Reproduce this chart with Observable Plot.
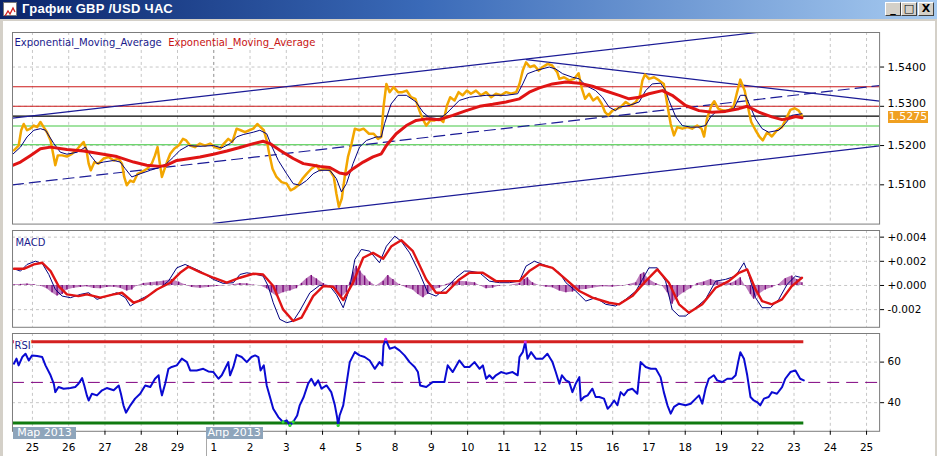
<!DOCTYPE html>
<html><head><meta charset="utf-8">
<script src="https://cdn.jsdelivr.net/npm/d3@7"></script>
<script src="https://cdn.jsdelivr.net/npm/@observablehq/plot@0.6"></script>
<style>
html,body{margin:0;padding:0;background:#d4d0c8;}
#win{position:relative;width:937px;height:456px;overflow:hidden;background:#d4d0c8;font-family:"DejaVu Sans",sans-serif;}
#title{position:absolute;left:0;top:0;width:937px;height:19px;background:linear-gradient(to right,#0a246a 0%,#3a6ab8 45%,#a6caf0 100%);}
#title .t{position:absolute;left:22px;top:1px;color:#fff;font:bold 13px "Liberation Sans",sans-serif;letter-spacing:0.3px;}
#icon{position:absolute;left:3px;top:2px;width:14px;height:14px;background:#fff;border:1px solid #7a7a7a;box-sizing:border-box;}
.btn{position:absolute;top:2px;width:16px;height:14px;background:#d4d0c8;box-sizing:border-box;border:1px solid;border-color:#fff #404040 #404040 #fff;font:bold 11px "DejaVu Sans",sans-serif;color:#000;text-align:center;line-height:12px;}
#inner{position:absolute;left:3px;top:21px;width:932px;height:435px;background:#fff;}
.panel{position:absolute;left:0;}
.panel svg{overflow:visible;}
.mbox{position:absolute;top:427px;height:12px;background:#8ea5bb;color:#fff;font:11px "DejaVu Sans",sans-serif;line-height:12px;text-align:center;white-space:nowrap;}
#lastbox{position:absolute;left:888px;width:40px;height:12px;background:#f0a020;color:#fff;font:11px "DejaVu Sans",sans-serif;line-height:12px;text-align:center;}
</style></head>
<body>
<div id="win">
  <div id="title"><div id="icon"><svg width="12" height="12"><polyline points="1,10 4,5 6,8 9,2 11,6" fill="none" stroke="#d02020" stroke-width="1.3"/></svg></div><div class="t">График GBP /USD ЧАС</div>
    <div class="btn" style="left:885px">_</div><div class="btn" style="left:901px">□</div><div class="btn" style="left:918px">X</div>
  </div>
  <div id="inner"></div>
</div>
<script>
// ---------- categories / ticks ----------
const dayLabels = ["25","26","27","28","29","1","2","3","4","5","8","9","10","11","12","15","16","17","18","19","22","23","24","25"];
const dayIdx = dayLabels.map((_, i) => i);
const monthStartIdx = 5;
const monthLabels = ["Мар 2013", "Апр 2013"];
const xDomain = [-0.55, 23.36];

const priceTicks = [1.51, 1.52, 1.53, 1.54];
const macdTicks = [-0.002, 0, 0.002, 0.004];
const rsiTicks = [40, 60];
const legendNames = ["Exponential_Moving_Average", "Exponential_Moving_Average"];

// ---------- price panel values (day index, price) ----------
const closeSeries = [[-0.51,1.5188],[-0.38,1.5200],[-0.31,1.5239],[-0.24,1.5255],[-0.15,1.5239],[-0.06,1.5243],[0.04,1.5251],[0.13,1.5247],[0.22,1.5260],[0.31,1.5247],[0.40,1.5234],[0.50,1.5213],[0.57,1.5179],[0.63,1.5150],[0.70,1.5175],[0.82,1.5175],[0.95,1.5172],[1.09,1.5179],[1.21,1.5188],[1.32,1.5200],[1.41,1.5209],[1.49,1.5188],[1.55,1.5154],[1.61,1.5137],[1.71,1.5158],[1.82,1.5154],[1.96,1.5167],[2.10,1.5171],[2.24,1.5162],[2.37,1.5167],[2.47,1.5154],[2.53,1.5120],[2.60,1.5099],[2.70,1.5111],[2.79,1.5107],[2.90,1.5128],[3.02,1.5133],[3.16,1.5141],[3.29,1.5154],[3.38,1.5175],[3.45,1.5196],[3.50,1.5162],[3.57,1.5120],[3.63,1.5137],[3.71,1.5158],[3.80,1.5179],[3.91,1.5192],[4.03,1.5200],[4.15,1.5217],[4.24,1.5213],[4.35,1.5200],[4.48,1.5196],[4.62,1.5205],[4.76,1.5200],[4.90,1.5205],[5.03,1.5196],[5.17,1.5192],[5.28,1.5205],[5.40,1.5217],[5.51,1.5209],[5.63,1.5243],[5.74,1.5239],[5.86,1.5234],[5.98,1.5239],[6.09,1.5243],[6.20,1.5255],[6.29,1.5247],[6.38,1.5239],[6.46,1.5213],[6.53,1.5179],[6.62,1.5141],[6.73,1.5120],[6.87,1.5107],[7.01,1.5103],[7.12,1.5086],[7.21,1.5090],[7.33,1.5099],[7.45,1.5116],[7.56,1.5128],[7.69,1.5141],[7.83,1.5150],[7.92,1.5137],[8.06,1.5141],[8.20,1.5137],[8.31,1.5120],[8.38,1.5078],[8.45,1.5044],[8.53,1.5065],[8.61,1.5120],[8.70,1.5171],[8.80,1.5205],[8.89,1.5243],[9.01,1.5239],[9.13,1.5243],[9.28,1.5230],[9.41,1.5230],[9.53,1.5217],[9.62,1.5222],[9.68,1.5298],[9.76,1.5357],[9.85,1.5336],[9.96,1.5349],[10.08,1.5336],[10.20,1.5336],[10.32,1.5340],[10.44,1.5323],[10.56,1.5319],[10.67,1.5289],[10.76,1.5268],[10.86,1.5251],[10.97,1.5264],[11.09,1.5264],[11.22,1.5268],[11.33,1.5260],[11.43,1.5302],[11.52,1.5323],[11.64,1.5315],[11.75,1.5336],[11.86,1.5328],[11.98,1.5340],[12.09,1.5332],[12.23,1.5340],[12.37,1.5328],[12.51,1.5336],[12.65,1.5323],[12.78,1.5332],[12.92,1.5328],[13.06,1.5336],[13.20,1.5332],[13.34,1.5336],[13.43,1.5357],[13.52,1.5391],[13.61,1.5412],[13.72,1.5400],[13.84,1.5404],[13.96,1.5391],[14.07,1.5400],[14.21,1.5408],[14.33,1.5404],[14.47,1.5387],[14.53,1.5370],[14.66,1.5374],[14.80,1.5366],[14.94,1.5370],[15.06,1.5384],[15.15,1.5345],[15.24,1.5319],[15.35,1.5332],[15.46,1.5315],[15.58,1.5323],[15.70,1.5306],[15.79,1.5285],[15.88,1.5277],[15.99,1.5289],[16.13,1.5294],[16.22,1.5298],[16.36,1.5311],[16.50,1.5302],[16.64,1.5311],[16.75,1.5328],[16.82,1.5366],[16.89,1.5381],[17.00,1.5370],[17.14,1.5374],[17.28,1.5366],[17.41,1.5357],[17.51,1.5302],[17.60,1.5255],[17.69,1.5226],[17.78,1.5247],[17.92,1.5243],[18.06,1.5247],[18.19,1.5243],[18.33,1.5251],[18.45,1.5243],[18.52,1.5223],[18.60,1.5268],[18.72,1.5302],[18.80,1.5313],[18.91,1.5294],[19.05,1.5289],[19.19,1.5289],[19.33,1.5298],[19.42,1.5332],[19.52,1.5368],[19.64,1.5340],[19.73,1.5298],[19.82,1.5260],[19.94,1.5239],[20.05,1.5222],[20.14,1.5213],[20.26,1.5234],[20.39,1.5223],[20.53,1.5239],[20.67,1.5247],[20.78,1.5268],[20.90,1.5291],[21.02,1.5295],[21.13,1.5289],[21.22,1.5276]];

const emaFast = [[-0.53,1.5179],[-0.33,1.5196],[-0.15,1.5222],[0.04,1.5239],[0.22,1.5243],[0.36,1.5239],[0.59,1.5205],[0.77,1.5183],[0.95,1.5178],[1.23,1.5183],[1.46,1.5196],[1.60,1.5175],[1.78,1.5154],[1.96,1.5158],[2.24,1.5162],[2.42,1.5158],[2.56,1.5141],[2.74,1.5120],[2.97,1.5128],[3.25,1.5137],[3.52,1.5145],[3.70,1.5154],[3.89,1.5171],[4.07,1.5188],[4.30,1.5200],[4.62,1.5198],[4.99,1.5200],[5.22,1.5194],[5.45,1.5205],[5.63,1.5222],[5.81,1.5228],[6.09,1.5234],[6.27,1.5239],[6.46,1.5230],[6.59,1.5200],[6.78,1.5162],[7.01,1.5128],[7.19,1.5103],[7.37,1.5099],[7.56,1.5111],[7.74,1.5128],[7.92,1.5137],[8.20,1.5137],[8.38,1.5116],[8.52,1.5082],[8.66,1.5103],[8.84,1.5154],[9.02,1.5196],[9.21,1.5213],[9.48,1.5222],[9.62,1.5222],[9.71,1.5256],[9.89,1.5306],[10.08,1.5328],[10.31,1.5328],[10.58,1.5311],[10.77,1.5285],[10.95,1.5271],[11.22,1.5268],[11.41,1.5281],[11.59,1.5298],[11.77,1.5315],[12.05,1.5323],[12.51,1.5328],[13.06,1.5328],[13.38,1.5332],[13.52,1.5357],[13.65,1.5383],[13.88,1.5391],[14.25,1.5400],[14.43,1.5395],[14.62,1.5383],[14.89,1.5374],[15.08,1.5370],[15.26,1.5353],[15.53,1.5340],[15.72,1.5323],[15.90,1.5298],[16.08,1.5289],[16.18,1.5298],[16.45,1.5302],[16.73,1.5311],[16.91,1.5340],[17.09,1.5357],[17.32,1.5359],[17.46,1.5340],[17.55,1.5315],[17.74,1.5273],[17.92,1.5251],[18.15,1.5247],[18.38,1.5247],[18.56,1.5251],[18.70,1.5273],[18.84,1.5285],[19.11,1.5289],[19.34,1.5294],[19.52,1.5328],[19.66,1.5328],[19.80,1.5298],[19.94,1.5268],[20.12,1.5243],[20.30,1.5234],[20.58,1.5239],[20.76,1.5256],[20.94,1.5277],[21.22,1.5281]];

const emaSlow = [[-0.53,1.5150],[-0.33,1.5158],[-0.05,1.5175],[0.22,1.5192],[0.50,1.5196],[0.95,1.5190],[1.41,1.5186],[1.87,1.5179],[2.33,1.5172],[2.79,1.5158],[3.15,1.5150],[3.52,1.5147],[3.70,1.5150],[3.98,1.5162],[4.26,1.5166],[4.62,1.5171],[4.99,1.5178],[5.36,1.5186],[5.72,1.5195],[6.09,1.5205],[6.36,1.5211],[6.55,1.5205],[6.82,1.5188],[7.19,1.5167],[7.47,1.5154],[7.74,1.5150],[7.92,1.5147],[8.20,1.5144],[8.47,1.5130],[8.66,1.5127],[8.84,1.5141],[9.12,1.5158],[9.39,1.5171],[9.62,1.5179],[9.76,1.5200],[10.03,1.5230],[10.31,1.5251],[10.58,1.5264],[10.86,1.5268],[11.22,1.5266],[11.59,1.5277],[11.96,1.5289],[12.33,1.5300],[12.69,1.5305],[13.06,1.5311],[13.43,1.5319],[13.70,1.5336],[13.98,1.5347],[14.34,1.5357],[14.71,1.5362],[15.08,1.5359],[15.44,1.5351],[15.81,1.5339],[16.18,1.5328],[16.45,1.5319],[16.73,1.5323],[17.00,1.5332],[17.37,1.5340],[17.64,1.5328],[18.01,1.5302],[18.38,1.5289],[18.74,1.5285],[19.11,1.5287],[19.48,1.5294],[19.71,1.5300],[20.03,1.5285],[20.39,1.5273],[20.67,1.5266],[20.85,1.5269],[21.04,1.5274],[21.22,1.5271]];

// trend / channel lines (endpoints, day index and price)
const channelUpper = [[-0.55,1.5270],[23.36,1.5524]];
const channelMid = [[-0.55,1.5100],[23.36,1.5353]];
const channelLower = [[4.98,1.5002],[23.36,1.5199]];
const trendDown = [[13.62,1.5419],[23.36,1.5313]];
const redLevels = [1.5350, 1.5300];
const blackLevel = 1.5275;
const greenLevels = [1.5250, 1.5202];
const lastPrice = 1.5275;

// ---------- MACD panel ----------
const macdMain = [[-0.51,0.00138],[-0.33,0.00119],[-0.15,0.00174],[0.08,0.00201],[0.27,0.00182],[0.45,0.00091],[0.63,-0.00033],[0.82,-0.00088],[1.05,-0.00101],[1.32,-0.00074],[1.55,-0.00060],[1.78,-0.00115],[2.05,-0.00088],[2.33,-0.00060],[2.56,-0.00101],[2.70,-0.00170],[2.97,-0.00115],[3.25,-0.00074],[3.52,-0.00019],[3.75,0.00036],[3.98,0.00146],[4.21,0.00174],[4.62,0.00119],[4.99,0.00050],[5.26,0.00017],[5.54,0.00023],[5.72,0.00091],[5.91,0.00105],[6.18,0.00091],[6.36,0.00078],[6.50,-0.00005],[6.64,-0.00143],[6.82,-0.00280],[7.01,-0.00308],[7.19,-0.00294],[7.37,-0.00211],[7.65,-0.00060],[7.92,0.00001],[8.20,-0.00005],[8.38,-0.00074],[8.57,-0.00184],[8.75,-0.00019],[8.89,0.00215],[9.07,0.00298],[9.30,0.00284],[9.57,0.00188],[9.76,0.00325],[9.99,0.00408],[10.17,0.00366],[10.40,0.00270],[10.67,0.00105],[10.90,-0.00060],[11.13,-0.00088],[11.41,-0.00019],[11.68,0.00064],[11.91,0.00119],[12.05,0.00119],[12.33,0.00105],[12.60,0.00036],[12.88,0.00023],[13.15,0.00023],[13.43,0.00036],[13.61,0.00160],[13.84,0.00201],[14.07,0.00174],[14.34,0.00146],[14.53,0.00105],[14.71,0.00023],[14.98,-0.00046],[15.26,-0.00129],[15.53,-0.00101],[15.81,-0.00156],[16.08,-0.00170],[16.36,-0.00115],[16.64,-0.00046],[16.82,0.00050],[17.00,0.00146],[17.23,0.00146],[17.46,0.00036],[17.64,-0.00198],[17.83,-0.00253],[18.01,-0.00253],[18.29,-0.00184],[18.56,-0.00115],[18.84,0.00036],[19.11,0.00050],[19.39,0.00078],[19.62,0.00188],[19.75,0.00091],[19.94,-0.00101],[20.12,-0.00184],[20.35,-0.00184],[20.58,-0.00115],[20.81,0.00009],[21.04,0.00078],[21.22,0.00064]];

const macdSignal = [[-0.51,0.00138],[-0.24,0.00138],[0.04,0.00174],[0.27,0.00188],[0.50,0.00119],[0.72,-0.00005],[0.95,-0.00074],[1.27,-0.00088],[1.50,-0.00074],[1.87,-0.00101],[2.24,-0.00074],[2.47,-0.00060],[2.79,-0.00143],[3.06,-0.00115],[3.43,-0.00033],[3.80,0.00023],[4.07,0.00105],[4.30,0.00155],[4.62,0.00111],[4.99,0.00064],[5.36,0.00023],[5.72,0.00064],[6.09,0.00097],[6.36,0.00091],[6.64,-0.00005],[6.91,-0.00198],[7.19,-0.00294],[7.42,-0.00266],[7.74,-0.00088],[8.02,-0.00005],[8.29,-0.00011],[8.57,-0.00121],[8.84,0.00023],[9.12,0.00229],[9.39,0.00270],[9.67,0.00221],[9.90,0.00325],[10.17,0.00375],[10.49,0.00284],[10.86,0.00050],[11.13,-0.00060],[11.41,-0.00060],[11.77,0.00050],[12.05,0.00105],[12.42,0.00105],[12.78,0.00036],[13.43,0.00036],[13.70,0.00119],[13.98,0.00174],[14.34,0.00146],[14.71,0.00050],[15.08,-0.00046],[15.44,-0.00101],[15.90,-0.00143],[16.18,-0.00156],[16.54,-0.00088],[16.91,0.00036],[17.23,0.00133],[17.55,0.00023],[17.83,-0.00156],[18.10,-0.00225],[18.47,-0.00156],[18.84,-0.00019],[19.20,0.00036],[19.48,0.00105],[19.71,0.00133],[19.94,-0.00033],[20.12,-0.00129],[20.39,-0.00156],[20.67,-0.00115],[20.94,-0.00005],[21.22,0.00064]];

const macdHist = [[-0.51,0.00005],[-0.33,0.00009],[-0.15,0.00012],[0.04,0.00005],[0.22,-0.00005],[0.40,-0.00027],[0.54,-0.00060],[0.68,-0.00088],[0.82,-0.00074],[0.95,-0.00038],[1.14,-0.00022],[1.32,-0.00016],[1.50,-0.00011],[1.69,-0.00025],[1.87,-0.00027],[2.05,-0.00016],[2.24,-0.00014],[2.42,-0.00022],[2.60,-0.00046],[2.74,-0.00038],[2.88,-0.00005],[3.06,0.00017],[3.25,0.00023],[3.43,0.00028],[3.61,0.00036],[3.84,0.00050],[4.03,0.00028],[4.21,0.00005],[4.39,-0.00016],[4.62,-0.00022],[4.85,-0.00016],[5.08,-0.00008],[5.36,0.00000],[5.54,0.00005],[5.72,0.00017],[5.91,0.00014],[6.09,0.00003],[6.27,0.00000],[6.46,-0.00027],[6.59,-0.00060],[6.73,-0.00088],[6.91,-0.00060],[7.10,-0.00046],[7.28,-0.00027],[7.42,0.00017],[7.56,0.00055],[7.69,0.00083],[7.83,0.00055],[8.02,0.00017],[8.20,-0.00005],[8.38,-0.00046],[8.52,-0.00101],[8.66,-0.00060],[8.75,0.00023],[8.84,0.00105],[8.93,0.00160],[9.03,0.00119],[9.16,0.00078],[9.30,0.00028],[9.48,-0.00005],[9.67,0.00036],[9.80,0.00083],[9.94,0.00050],[10.12,0.00009],[10.31,-0.00019],[10.49,-0.00038],[10.63,-0.00074],[10.77,-0.00101],[10.90,-0.00074],[11.04,-0.00038],[11.22,-0.00022],[11.41,0.00009],[11.59,0.00028],[11.77,0.00036],[11.96,0.00030],[12.19,0.00023],[12.33,0.00000],[12.51,-0.00027],[12.69,-0.00022],[12.88,-0.00005],[13.15,0.00000],[13.43,0.00017],[13.56,0.00050],[13.65,0.00064],[13.79,0.00023],[13.98,0.00000],[14.16,-0.00014],[14.34,-0.00019],[14.53,-0.00046],[14.71,-0.00060],[14.89,-0.00055],[15.08,-0.00038],[15.26,-0.00033],[15.44,-0.00022],[15.72,-0.00011],[15.99,-0.00014],[16.27,-0.00005],[16.45,0.00009],[16.64,0.00023],[16.77,0.00091],[16.86,0.00105],[17.00,0.00050],[17.19,0.00017],[17.37,-0.00005],[17.51,-0.00060],[17.64,-0.00156],[17.78,-0.00101],[17.96,-0.00060],[18.15,-0.00027],[18.33,0.00017],[18.51,0.00028],[18.70,0.00050],[18.88,0.00036],[19.07,0.00023],[19.25,0.00017],[19.39,0.00036],[19.52,0.00064],[19.66,-0.00005],[19.80,-0.00074],[19.89,-0.00115],[20.03,-0.00074],[20.21,-0.00038],[20.39,-0.00019],[20.58,0.00009],[20.76,0.00055],[20.94,0.00078],[21.08,0.00050],[21.22,0.00023]];

// ---------- RSI panel ----------
const rsiSeries = [[-0.51,59.2],[-0.44,61.7],[-0.38,58.4],[-0.28,62.5],[-0.19,64.1],[-0.10,60.8],[-0.01,63.3],[0.13,63.0],[0.27,62.5],[0.36,58.4],[0.50,53.5],[0.59,49.3],[0.63,45.2],[0.72,47.7],[0.86,46.9],[1.05,47.2],[1.18,47.7],[1.27,49.3],[1.37,52.1],[1.43,48.5],[1.50,43.6],[1.55,41.1],[1.64,44.4],[1.78,43.6],[1.92,46.1],[2.05,47.2],[2.24,46.1],[2.38,48.5],[2.44,44.4],[2.51,38.7],[2.58,35.1],[2.70,38.7],[2.83,42.0],[2.97,44.4],[3.11,48.5],[3.25,47.7],[3.38,51.8],[3.48,53.5],[3.52,47.7],[3.57,43.6],[3.66,49.3],[3.75,56.7],[3.84,57.6],[3.98,58.4],[4.12,61.7],[4.26,60.0],[4.35,55.9],[4.53,55.9],[4.71,56.7],[4.85,55.4],[4.99,55.1],[5.13,51.8],[5.22,53.5],[5.31,56.7],[5.40,60.0],[5.45,53.5],[5.54,57.6],[5.63,63.6],[5.77,62.5],[5.91,60.0],[6.04,62.5],[6.14,63.3],[6.23,62.5],[6.29,55.9],[6.38,58.4],[6.46,48.5],[6.55,42.8],[6.64,37.0],[6.78,32.9],[6.91,30.5],[7.01,31.3],[7.10,28.8],[7.19,30.5],[7.30,33.7],[7.37,38.7],[7.48,42.8],[7.60,49.3],[7.69,51.8],[7.79,48.5],[7.88,51.0],[7.97,46.9],[8.11,48.5],[8.24,45.2],[8.34,38.7],[8.40,32.9],[8.43,28.8],[8.47,33.7],[8.57,38.7],[8.66,49.3],[8.75,60.0],[8.89,64.9],[9.02,63.3],[9.16,62.5],[9.30,60.8],[9.44,56.7],[9.57,60.0],[9.65,58.4],[9.68,68.2],[9.74,71.2],[9.85,66.6],[9.99,67.4],[10.12,65.8],[10.26,63.3],[10.40,60.0],[10.54,57.6],[10.63,55.1],[10.69,48.5],[10.86,47.7],[11.04,50.2],[11.22,50.2],[11.36,50.2],[11.45,58.4],[11.59,55.1],[11.77,60.8],[11.91,57.6],[12.05,57.6],[12.19,60.0],[12.33,56.7],[12.42,58.4],[12.51,51.8],[12.60,53.5],[12.69,51.8],[12.78,53.5],[12.92,55.1],[13.06,54.3],[13.24,55.1],[13.38,53.5],[13.43,62.5],[13.52,64.9],[13.59,69.9],[13.65,61.7],[13.75,64.9],[13.88,61.7],[14.07,61.7],[14.20,64.1],[14.34,60.0],[14.43,55.1],[14.53,49.3],[14.60,53.5],[14.71,51.0],[14.80,50.2],[14.89,45.2],[14.98,49.3],[15.08,52.6],[15.12,41.1],[15.21,42.8],[15.31,43.6],[15.44,46.9],[15.53,42.8],[15.63,42.8],[15.76,42.0],[15.86,37.0],[15.95,38.7],[16.04,41.1],[16.13,38.7],[16.22,45.2],[16.31,43.6],[16.41,46.1],[16.54,46.9],[16.68,44.4],[16.77,60.0],[16.91,57.6],[17.05,56.7],[17.19,56.7],[17.32,52.6],[17.41,45.2],[17.51,38.7],[17.60,34.6],[17.69,37.9],[17.83,39.5],[18.01,38.7],[18.15,39.5],[18.29,42.0],[18.38,43.6],[18.47,39.5],[18.56,46.9],[18.65,51.8],[18.79,53.5],[18.88,51.0],[19.02,50.2],[19.16,51.8],[19.29,51.8],[19.39,53.5],[19.46,60.0],[19.52,64.9],[19.62,61.7],[19.71,53.5],[19.80,42.8],[19.89,41.1],[19.98,40.3],[20.07,38.7],[20.17,42.0],[20.30,42.8],[20.39,45.2],[20.53,44.4],[20.67,47.7],[20.76,51.8],[20.90,55.1],[21.04,55.9],[21.17,51.8],[21.27,51.0]];
const rsiHigh = 70, rsiLow = 30, rsiMid = 50;

// ---------- build ----------
const pts = a => a.map(([x, y]) => ({x, y}));
const W = 937, ML = 12, MR = 56;
const baseStyle = {fontFamily: "DejaVu Sans, sans-serif", fontSize: "10.5px", background: "transparent", color: "#000", overflow: "visible"};
const gridDays = dayIdx.filter(i => i !== monthStartIdx);
const vGrid = () => [
  Plot.ruleX(gridDays, {stroke: "#c6c6c6", strokeDasharray: "3,3"}),
  Plot.ruleX([monthStartIdx], {stroke: "#8c8c8c", strokeDasharray: "3,3"})
];
const inner = document.getElementById("inner");
function place(svgEl, top) {
  const d = document.createElement("div");
  d.className = "panel";
  d.style.left = "-3px";
  d.style.top = (top - 21) + "px";
  d.appendChild(svgEl);
  inner.appendChild(d);
}

// price
const xEnd = rsiSeries[rsiSeries.length - 1][0];
const pricePlot = Plot.plot({
  width: W, height: 192, marginLeft: ML, marginRight: MR, marginTop: 0, marginBottom: 0,
  style: baseStyle,
  x: {domain: xDomain, axis: null},
  y: {domain: [1.5000, 1.5488], axis: null},
  marks: [
    ...vGrid(),
    Plot.ruleY(priceTicks.filter(t => !greenLevels.includes(t)), {stroke: "#c6c6c6", strokeDasharray: "3,3"}),
    Plot.ruleY([redLevels[0]], {stroke: "#cc1a1a", strokeWidth: 1.1}),
    Plot.ruleY([redLevels[1]], {stroke: "#cc1a1a", strokeWidth: 1.1}),
    Plot.ruleY([greenLevels[0]], {stroke: "#45c845", strokeWidth: 1.1}),
    Plot.ruleY([greenLevels[1]], {stroke: "#3cc83c", strokeWidth: 1.2}),
    Plot.ruleY([blackLevel], {stroke: "#000", strokeWidth: 1.3}),
    Plot.line(pts(channelUpper), {x: "x", y: "y", stroke: "#1b1b96", strokeWidth: 1.2, clip: true}),
    Plot.line(pts(channelMid), {x: "x", y: "y", stroke: "#1b1b96", strokeWidth: 1.2, strokeDasharray: "11,6", clip: true}),
    Plot.line(pts(channelLower), {x: "x", y: "y", stroke: "#1b1b96", strokeWidth: 1.2, clip: true}),
    Plot.line(pts(trendDown), {x: "x", y: "y", stroke: "#1b1b96", strokeWidth: 1.2, clip: true}),
    Plot.line(pts(closeSeries), {x: "x", y: "y", stroke: "#f2a600", strokeWidth: 2.5, clip: true}),
    Plot.line(pts(emaFast), {x: "x", y: "y", stroke: "#000080", strokeWidth: 1, clip: true}),
    Plot.line(pts(emaSlow), {x: "x", y: "y", stroke: "#e01414", strokeWidth: 3, clip: true}),
    Plot.frame({stroke: "#7c7c7c"}),
    Plot.axisY(priceTicks, {anchor: "right", tickFormat: d => d === 1.53 ? "" : d.toFixed(4), tickSize: 4, tickPadding: 4, label: null, fontSize: 11}),
    Plot.text([1.53], {x: xDomain[1], y: d => d, text: d => d.toFixed(4), dx: 8, dy: -3, textAnchor: "start", fontSize: 11, fill: "#000"}),
    Plot.text([legendNames[0]], {frameAnchor: "top-left", dx: 2, dy: 6.5, fill: "#1a1a8c", fontSize: 10.1, textAnchor: "start"}),
    Plot.text([legendNames[1]], {frameAnchor: "top-left", dx: 156, dy: 6.5, fill: "#c81414", fontSize: 10.1, textAnchor: "start"})
  ]
});
place(pricePlot, 32);

// last price box, positioned via the price y scale
const lb = document.createElement("div");
lb.id = "lastbox";
lb.textContent = lastPrice.toFixed(4);
lb.style.top = (32 + pricePlot.scale("y").apply(lastPrice) - 5 - 21) + "px";
lb.style.left = (888 - 3) + "px";
inner.appendChild(lb);

// MACD
const macdPlot = Plot.plot({
  width: W, height: 97, marginLeft: ML, marginRight: MR, marginTop: 0, marginBottom: 0,
  style: baseStyle,
  x: {domain: xDomain, axis: null},
  y: {domain: [-0.00346, 0.00455], axis: null},
  marks: [
    ...vGrid(),
    Plot.ruleY(macdTicks, {stroke: "#c6c6c6", strokeDasharray: "3,3"}),
    Plot.areaY(pts(macdHist), {x: "x", y: "y", fill: "#8a1a8a", fillOpacity: 0.55}),
    Plot.ruleX(pts(macdHist), {x: "x", y1: 0, y2: "y", stroke: "#7a0a7a", strokeWidth: 1.4}),
    Plot.line(pts(macdMain), {x: "x", y: "y", stroke: "#000080", strokeWidth: 1}),
    Plot.line(pts(macdSignal), {x: "x", y: "y", stroke: "#e01414", strokeWidth: 2.4}),
    Plot.frame({stroke: "#7c7c7c"}),
    Plot.axisY(macdTicks, {anchor: "right", tickFormat: d => (d >= 0 ? "+" : "-") + Math.abs(d).toFixed(3), tickSize: 4, tickPadding: 4, label: null, fontSize: 10.5}),
    Plot.text(["MACD"], {frameAnchor: "top-left", dx: 3, dy: 8, fill: "#1a1a8c", fontSize: 10, textAnchor: "start"})
  ]
});
place(macdPlot, 230);

// RSI
const rsiPts = pts(rsiSeries);
const rsiPlot = Plot.plot({
  width: W, height: 123, marginLeft: ML, marginRight: MR, marginTop: 0, marginBottom: 25,
  style: baseStyle,
  x: {domain: xDomain},
  y: {domain: [25.9, 74.1], axis: null},
  marks: [
    ...vGrid(),
    Plot.ruleY(rsiTicks, {stroke: "#c6c6c6", strokeDasharray: "3,3"}),
    Plot.ruleY([rsiMid], {stroke: "#800080", strokeWidth: 1, strokeDasharray: "12,7"}),
    Plot.ruleY([rsiHigh], {x1: xDomain[0], x2: xEnd, stroke: "#d42020", strokeWidth: 3}),
    Plot.ruleY([rsiLow], {x1: xDomain[0], x2: xEnd, stroke: "#107a10", strokeWidth: 3}),
    Plot.line(rsiPts, {x: "x", y: "y", stroke: "#0a0ad2", strokeWidth: 2}),
    Plot.dot(rsiPts.filter(d => d.y < 31), {x: "x", y: "y", r: 1.6, fill: "#33dd33"}),
    Plot.dot(rsiPts.filter(d => d.y > 69), {x: "x", y: "y", r: 1.6, fill: "#dd33dd"}),
    Plot.frame({stroke: "#7c7c7c"}),
    Plot.axisY(rsiTicks, {anchor: "right", tickSize: 4, tickPadding: 4, label: null, fontSize: 10.5}),
    Plot.axisX(dayIdx, {tickFormat: i => dayLabels[i], tickSize: 4, tickPadding: 8, label: null, fontSize: 10.5}),
    Plot.text(["RSI"], {frameAnchor: "top-left", dx: 2, dy: 8, fill: "#1a1a8c", fontSize: 10, textAnchor: "start", stroke: "white", strokeWidth: 3, paintOrder: "stroke"})
  ]
});
place(rsiPlot, 333);

// month boxes, positioned via the x scale
const sx = rsiPlot.scale("x");
[[xDomain[0], monthLabels[0], 63, 1], [monthStartIdx, monthLabels[1], 57, -8]].forEach(([v, t, w, off]) => {
  const b = document.createElement("div");
  b.className = "mbox";
  b.textContent = t;
  const left = sx.apply(v) + off;
  b.style.left = (left - 3) + "px";
  b.style.width = w + "px";
  b.style.top = (427 - 21) + "px";
  inner.appendChild(b);
  if (off < 0) {
    const ln = document.createElement("div");
    ln.style.cssText = `position:absolute;left:${left - 3}px;top:${438 - 21}px;width:1px;height:18px;background:#a8a8a8;`;
    inner.appendChild(ln);
  }
});
</script>
</body></html>
